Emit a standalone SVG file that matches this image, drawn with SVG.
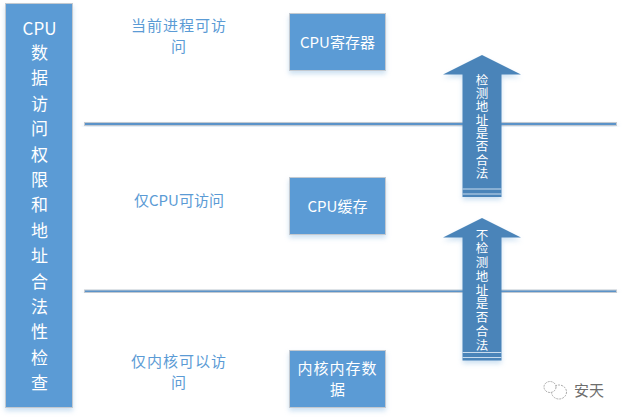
<svg xmlns="http://www.w3.org/2000/svg" width="623" height="417" viewBox="0 0 623 417">
<style>
text{font-family:"Noto Sans CJK SC","Liberation Sans",sans-serif;text-anchor:middle}
.box{fill:#5b9bd5;stroke:#c3c9d0;stroke-width:1;filter:url(#sh)}
.wt{fill:#fff;font-size:15px}
.lt{fill:#fff;font-size:17px}
.at{fill:#fff;font-size:12.500px;writing-mode:vertical-rl;text-anchor:start}
.bl{fill:#5b9bd5;font-size:15px;letter-spacing:1px}
.line{fill:#5b93c9;stroke:#c3c9d0;stroke-width:1;filter:url(#sh)}
.arrow{fill:#4a84b9;filter:url(#sh)}
.sep{stroke:#c9dcee;stroke-width:1}
</style>
<defs>
<filter id="sh" x="-20%" y="-20%" width="140%" height="140%" color-interpolation-filters="sRGB">
<feDropShadow dx="0" dy="3" stdDeviation="2.500" flood-color="#5b9bd5" flood-opacity="0.3"/>
</filter>
</defs>
<rect width="623" height="417" fill="#fff"/>
<g id="connectors">
<rect class="line" x="84.500" y="122.500" width="532" height="3"/>
<rect class="line" x="84.500" y="290" width="532" height="2.500"/>
</g>
<g id="left-title">
<rect class="box" x="5.500" y="3.500" width="67" height="404"/>
<text class="lt" x="39.500" y="35">CPU</text>
<text class="lt" x="39.500" y="59">数</text>
<text class="lt" x="39.500" y="84.400">据</text>
<text class="lt" x="39.500" y="109.800">访</text>
<text class="lt" x="39.500" y="135.200">问</text>
<text class="lt" x="39.500" y="160.600">权</text>
<text class="lt" x="39.500" y="186">限</text>
<text class="lt" x="39.500" y="211.400">和</text>
<text class="lt" x="39.500" y="236.800">地</text>
<text class="lt" x="39.500" y="262.200">址</text>
<text class="lt" x="39.500" y="287.600">合</text>
<text class="lt" x="39.500" y="313">法</text>
<text class="lt" x="39.500" y="338.400">性</text>
<text class="lt" x="39.500" y="363.800">检</text>
<text class="lt" x="39.500" y="389">查</text>
</g>
<g id="label-process">
<text class="bl" x="179" y="31">当前进程可访</text>
<text class="bl" x="179" y="52">问</text>
</g>
<g id="label-cpu">
<text class="bl" x="179" y="206" style="letter-spacing:0">仅CPU可访问</text>
</g>
<g id="label-kernel">
<text class="bl" x="179" y="367">仅内核可以访</text>
<text class="bl" x="179" y="388">问</text>
</g>
<g id="node-register">
<rect class="box" x="289.500" y="13.500" width="96" height="57"/>
<text class="wt" x="337.500" y="48">CPU寄存器</text>
</g>
<g id="node-cache">
<rect class="box" x="289.500" y="177.500" width="96" height="57"/>
<text class="wt" x="337.500" y="212">CPU缓存</text>
</g>
<g id="node-kernel">
<rect class="box" x="289.500" y="350.500" width="96" height="57"/>
<text class="wt" x="337.500" y="374" style="letter-spacing:1px">内核内存数</text>
<text class="wt" x="337.500" y="395">据</text>
</g>
<g id="arrow-check">
<path class="arrow" d="M482 55L521 74.500H501.500V197H462.500V74.500H443Z"/>
<line class="sep" x1="462.500" y1="189" x2="501.500" y2="189"/>
<line class="sep" x1="462.500" y1="194" x2="501.500" y2="194"/>
<text class="at" x="482" y="73.500" style="letter-spacing:0.900px">检测地址是否合法</text>
</g>
<g id="arrow-nocheck">
<path class="arrow" d="M482 218L521 237.500H501.500V360.500H462.500V237.500H443Z"/>
<line class="sep" x1="462.500" y1="352.500" x2="501.500" y2="352.500"/>
<line class="sep" x1="462.500" y1="357.500" x2="501.500" y2="357.500"/>
<text class="at" x="482" y="228.500" style="letter-spacing:1.250px">不检测地址是否合法</text>
</g>
<g id="watermark">
<ellipse cx="559" cy="392" rx="7.500" ry="7" fill="#fff" stroke="#aaa" stroke-width="1" stroke-dasharray="2 1"/>
<ellipse cx="550" cy="387" rx="6" ry="5.500" fill="#fff" stroke="#aaa" stroke-width="1" stroke-dasharray="2 1"/>
<text x="589" y="396" style="font-size:15px;fill:#6d6d6d">安天</text>
</g>
</svg>
